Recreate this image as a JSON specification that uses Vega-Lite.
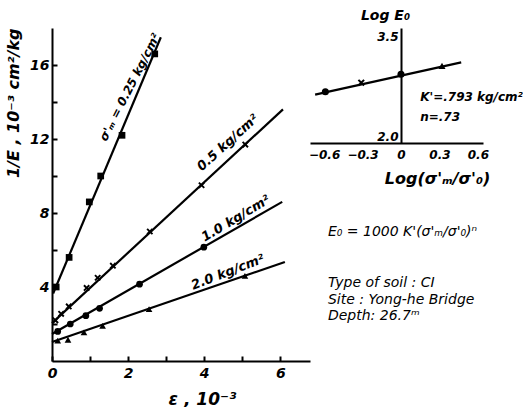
{
  "$schema": "https://vega.github.io/schema/vega-lite/v6.json",
  "background": "white",
  "padding": {"left": 5, "top": 8, "right": 0, "bottom": 0},
  "datasets": {
    "lines": [
      {"s": "0.25", "x": 0.03, "y": 3.65}, {"s": "0.25", "x": 2.86, "y": 17.5},
      {"s": "0.5", "x": 0.0, "y": 2.05}, {"s": "0.5", "x": 6.07, "y": 13.6},
      {"s": "1.0", "x": 0.0, "y": 1.46}, {"s": "1.0", "x": 6.05, "y": 8.6},
      {"s": "2.0", "x": 0.0, "y": 1.03}, {"s": "2.0", "x": 6.12, "y": 5.35}
    ],
    "points": [
      {"s": "0.25", "x": 0.11, "y": 4.0}, {"s": "0.25", "x": 0.45, "y": 5.6}, {"s": "0.25", "x": 0.98, "y": 8.6},
      {"s": "0.25", "x": 1.28, "y": 10.0}, {"s": "0.25", "x": 1.84, "y": 12.2}, {"s": "0.25", "x": 2.7, "y": 16.6},
      {"s": "0.5", "x": 0.09, "y": 2.2}, {"s": "0.5", "x": 0.24, "y": 2.55}, {"s": "0.5", "x": 0.44, "y": 2.95},
      {"s": "0.5", "x": 0.91, "y": 3.95}, {"s": "0.5", "x": 1.2, "y": 4.5}, {"s": "0.5", "x": 1.6, "y": 5.15},
      {"s": "0.5", "x": 2.57, "y": 7.0}, {"s": "0.5", "x": 3.93, "y": 9.5}, {"s": "0.5", "x": 5.08, "y": 11.7},
      {"s": "1.0", "x": 0.15, "y": 1.6}, {"s": "1.0", "x": 0.48, "y": 2.0}, {"s": "1.0", "x": 0.89, "y": 2.45},
      {"s": "1.0", "x": 1.25, "y": 2.85}, {"s": "1.0", "x": 2.3, "y": 4.15}, {"s": "1.0", "x": 3.99, "y": 6.15},
      {"s": "2.0", "x": 0.15, "y": 1.1}, {"s": "2.0", "x": 0.42, "y": 1.15}, {"s": "2.0", "x": 0.84, "y": 1.55},
      {"s": "2.0", "x": 1.33, "y": 1.9}, {"s": "2.0", "x": 2.55, "y": 2.8}, {"s": "2.0", "x": 5.07, "y": 4.6}
    ],
    "labels": [
      {"s": "0.25", "x": 2.04, "y": 14.8, "text": "σ'ₘ = 0.25 kg/cm²"},
      {"s": "0.5", "x": 4.62, "y": 11.8, "text": "0.5 kg/cm²"},
      {"s": "1.0", "x": 4.83, "y": 7.7, "text": "1.0 kg/cm²"},
      {"s": "2.0", "x": 4.62, "y": 4.8, "text": "2.0 kg/cm²"}
    ],
    "inset_line": [{"x": -0.67, "y": 2.69}, {"x": 0.47, "y": 3.15}],
    "inset_points": [
      {"s": "0.25", "x": -0.59, "y": 2.73}, {"s": "0.5", "x": -0.31, "y": 2.86},
      {"s": "1.0", "x": 0.0, "y": 2.98}, {"s": "2.0", "x": 0.32, "y": 3.1}
    ],
    "inset_text": [
      {"x": 0.15, "y": 2.66, "text": "K'=.793 kg/cm²"},
      {"x": 0.15, "y": 2.37, "text": "n=.73"}
    ],
    "notes": [
      {"x": -0.57, "y": 0.73, "text": "E₀ = 1000 K'(σ'ₘ/σ'₀)ⁿ"},
      {"x": -0.57, "y": 0.01, "text": "Type of soil : CI"},
      {"x": -0.57, "y": -0.24, "text": "Site : Yong-he Bridge"},
      {"x": -0.57, "y": -0.46, "text": "Depth: 26.7ᵐ"}
    ]
  },
  "bounds": "flush",
  "spacing": 0,
  "resolve": {"scale": {"shape": "independent"}},
  "hconcat": [
    {
      "width": 258,
      "height": 333,
      "layer": [
        {
          "data": {"name": "lines"},
          "mark": {"type": "line", "color": "black", "strokeWidth": 2.2},
          "encoding": {
            "x": {"field": "x", "type": "quantitative", "scale": {"domain": [0, 6.78], "nice": false},
              "title": "ε , 10⁻³",
              "axis": {"values": [0, 1, 2, 3, 4, 5, 6], "labelExpr": "datum.value % 2 === 0 ? datum.label : ''",
                "tickSize": -5, "labelPadding": 10, "labelFontSize": 14, "titleFontSize": 17, "labelFlush": false,
                "titleX": 150, "titleY": 38, "titleBaseline": "middle"}},
            "y": {"field": "y", "type": "quantitative", "scale": {"domain": [0, 18], "nice": false},
              "title": "1/E , 10⁻³ cm²/kg",
              "axis": {"values": [2, 4, 6, 8, 10, 12, 14, 16], "labelExpr": "datum.value % 4 === 0 ? datum.label : ''",
                "tickSize": -5, "labelPadding": 8, "labelFontSize": 14, "titleFontSize": 16,
                "titleAnchor": "end", "titlePadding": 8}},
            "detail": {"field": "s"}
          }
        },
        {
          "data": {"name": "points"},
          "mark": {"type": "point", "filled": true, "color": "black", "size": 45, "opacity": 1},
          "encoding": {
            "x": {"field": "x", "type": "quantitative"},
            "y": {"field": "y", "type": "quantitative"},
            "shape": {"field": "s", "type": "nominal", "legend": null,
              "scale": {"domain": ["0.25", "0.5", "1.0", "2.0"],
                "range": ["square", "M-1,-0.6L-0.6,-1L0,-0.4L0.6,-1L1,-0.6L0.4,0L1,0.6L0.6,1L0,0.4L-0.6,1L-1,0.6L-0.4,0Z", "circle", "triangle-up"]}}
          }
        },
        {
          "data": {"name": "labels"},
          "transform": [{"filter": "datum.s === '0.25'"}],
          "mark": {"type": "text", "angle": 297, "fontSize": 12, "fontWeight": "bold", "fontStyle": "italic"},
          "encoding": {"x": {"field": "x", "type": "quantitative"}, "y": {"field": "y", "type": "quantitative"}, "text": {"field": "text"}}
        },
        {
          "data": {"name": "labels"},
          "transform": [{"filter": "datum.s === '0.5'"}],
          "mark": {"type": "text", "angle": 318, "fontSize": 13, "fontWeight": "bold", "fontStyle": "italic"},
          "encoding": {"x": {"field": "x", "type": "quantitative"}, "y": {"field": "y", "type": "quantitative"}, "text": {"field": "text"}}
        },
        {
          "data": {"name": "labels"},
          "transform": [{"filter": "datum.s === '1.0'"}],
          "mark": {"type": "text", "angle": 329, "fontSize": 13, "fontWeight": "bold", "fontStyle": "italic"},
          "encoding": {"x": {"field": "x", "type": "quantitative"}, "y": {"field": "y", "type": "quantitative"}, "text": {"field": "text"}}
        },
        {
          "data": {"name": "labels"},
          "transform": [{"filter": "datum.s === '2.0'"}],
          "mark": {"type": "text", "angle": 339, "fontSize": 13, "fontWeight": "bold", "fontStyle": "italic"},
          "encoding": {"x": {"field": "x", "type": "quantitative"}, "y": {"field": "y", "type": "quantitative"}, "text": {"field": "text"}}
        }
      ]
    },
    {
      "width": 173,
      "height": 115,
      "layer": [
        {
          "data": {"name": "inset_line"},
          "mark": {"type": "line", "color": "black", "strokeWidth": 2.2},
          "encoding": {
            "x": {"field": "x", "type": "quantitative", "scale": {"domain": [-0.71, 0.64], "nice": false, "zero": false},
              "title": "Log(σ'ₘ/σ'₀)",
              "axis": {"values": [-0.6, -0.3, 0, 0.3, 0.6], "labelExpr": "datum.value === 0 ? '0' : format(datum.value, '.1f')",
                "ticks": false, "labelPadding": 6, "labelFontSize": 12, "titleFontSize": 16, "titleX": 127, "titleY": 35,
                "titleBaseline": "middle"}},
            "y": {"field": "y", "type": "quantitative", "scale": {"domain": [2.0, 3.64], "nice": false, "zero": false},
              "title": "Log E₀",
              "axis": {"values": [2.0, 2.5, 3.0, 3.5], "format": ".1f", "ticks": false, "offset": -91, "labelPadding": 3,
                "labelOffset": {"condition": {"test": "datum.value === 2", "value": -7}, "value": -1},
                "labelFontSize": 12, "titleFontSize": 14, "titleAngle": 0, "titleX": -16, "titleY": -13,
                "titleAlign": "center", "titleBaseline": "middle"}}
          }
        },
        {
          "data": {"name": "inset_points"},
          "mark": {"type": "point", "filled": true, "color": "black", "size": 50, "opacity": 1},
          "encoding": {
            "x": {"field": "x", "type": "quantitative"},
            "y": {"field": "y", "type": "quantitative"},
            "shape": {"field": "s", "type": "nominal", "legend": null,
              "scale": {"domain": ["0.25", "0.5", "1.0", "2.0"],
                "range": ["circle", "M-1,-0.6L-0.6,-1L0,-0.4L0.6,-1L1,-0.6L0.4,0L1,0.6L0.6,1L0,0.4L-0.6,1L-1,0.6L-0.4,0Z", "circle", "triangle-up"]}}
          }
        },
        {
          "data": {"name": "inset_text"},
          "mark": {"type": "text", "align": "left", "fontSize": 12, "fontWeight": "bold", "fontStyle": "italic"},
          "encoding": {"x": {"field": "x", "type": "quantitative"}, "y": {"field": "y", "type": "quantitative"}, "text": {"field": "text"}}
        },
        {
          "data": {"name": "notes"},
          "mark": {"type": "text", "align": "left", "fontSize": 14, "fontStyle": "italic"},
          "encoding": {"x": {"field": "x", "type": "quantitative"}, "y": {"field": "y", "type": "quantitative"}, "text": {"field": "text"}}
        }
      ]
    }
  ],
  "config": {
    "view": {"stroke": null},
    "font": "DejaVu Sans",
    "text": {"font": "DejaVu Sans", "color": "black"},
    "axis": {"domainColor": "black", "domainWidth": 2, "tickColor": "black", "tickWidth": 2, "labelColor": "black",
      "titleColor": "black", "grid": false, "labelFont": "DejaVu Sans", "titleFont": "DejaVu Sans",
      "labelFontWeight": "bold", "titleFontWeight": "bold", "labelFontStyle": "italic", "titleFontStyle": "italic"}
  }
}
